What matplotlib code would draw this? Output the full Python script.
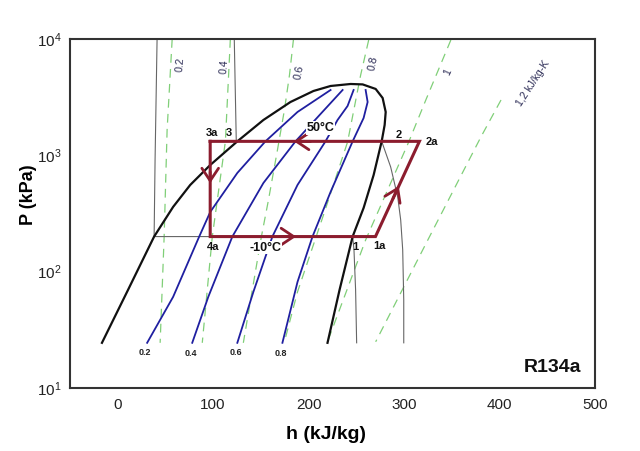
import matplotlib
matplotlib.use('Agg')
import matplotlib.pyplot as plt
import numpy as np

plt.rcParams['font.family'] = ['Liberation Sans', 'DejaVu Sans']
plt.rcParams['mathtext.fontset'] = 'custom'
plt.rcParams['mathtext.rm'] = 'Liberation Sans'

# ---------------- data (h in kJ/kg, P in kPa) ----------------
dome_h = [-16.3, 11.0, 38.3, 58.2, 76.1, 97.1, 125.4, 152.7, 181.0, 205.1, 223.0, 244.0,
          256.6, 270.2, 277.5, 280.7, 279.6, 276.5, 268.1, 257.6, 246.1, 232.4, 219.8]
dome_P = [24.4, 69.6, 200, 360, 556, 826, 1318, 2012, 2872, 3573, 3945, 4104,
          4070, 3720, 3111, 2358, 1822, 1318, 678, 353, 200, 69.6, 24.4]

x_labels = ['0.2', '0.4', '0.6', '0.8']
x02_h = [31.0, 58.2, 85.5, 97.1, 125.4, 154.8, 188.4, 223.0]
x02_P = [24.4, 60.6, 200, 326, 705, 1318, 2358, 3644]
x04_h = [78.2, 95.0, 120.2, 152.7, 186.3, 212.5, 235.6]
x04_P = [24.4, 60.6, 200, 578, 1318, 2266, 3644]
x06_h = [125.4, 142.2, 162.1, 188.4, 217.7, 230.3, 240.8, 247.1]
x06_P = [24.4, 66.9, 200, 556, 1318, 2012, 2655, 3644]
x08_h = [172.6, 188.4, 204.1, 223.0, 246.1, 257.6, 261.8, 259.7]
x08_P = [24.4, 81.5, 200, 484, 1318, 2094, 2872, 3644]
x_label_h = [29, 77, 124, 170.5]
x_label_P = [20, 19.7, 20, 19.7]

s_labels = ['0.2', '0.4', '0.6', '0.8', '1', '1,2 kJ/kg-K']
s02_h = [57.2, 51.9, 48.8, 44.6]
s02_P = [10000, 1651, 200, 24.4]
s04_h = [118.1, 112.9, 99.2, 88.7]
s04_P = [10000, 1318, 200, 24.4]
s06_h = [184.2, 180.0, 174.7, 167.4, 158.0, 150.6, 141.1, 131.7]
s06_P = [10000, 4903, 2453, 1111, 413, 200, 69.6, 24.4]
s08_h = [262.9, 254.5, 240.8, 215.6, 188.4, 174.7]
s08_P = [9804, 4903, 1302, 307, 66.9, 24.9]
s10_h = [348.9, 322.7, 304.8, 259.7, 219.8]
s10_P = [9804, 2989, 1302, 187, 24.9]
s12_h = [401.4, 380.4, 324.8, 270.2]
s12_P = [2989, 1439, 187, 24.9]
s_label_h = [65.6, 111.8, 190.4, 268.1, 345.8, 435.0]
s_label_P = [5976, 5745, 5204, 6220, 5204, 4186]
s_label_rot = [85, 85, 78, 78, 65, 57]

tm10_h = [41.4, 39.3, 38.3, 246.1, 247.5, 249.2, 250.3]
tm10_P = [10000, 912, 200, 200, 154, 69.6, 24.4]
t50_h = [122.2, 124.3, 276.5, 285.9, 293.3, 296.4, 298.5, 299.6, 299.6]
t50_P = [10000, 1318, 1318, 794, 438, 278, 154, 57.1, 24.4]

cycle_names = ['3a', '4a', '1a', '2a']
cycle_h = [97, 97, 270, 316]
cycle_P = [1318, 200, 200, 1318]

pt_labels = ['3a', '3', '2', '2a', '4a', '1', '1a']
pt_h = [99, 117, 294, 329, 100, 249, 274]
pt_P = [1556, 1556, 1496, 1290, 163, 163, 165]

# ---------------- styles ----------------
RED = '#8c1c2e'
BLUE = '#1f1fa0'
GREEN = '#80cf78'
GRAY = '#666666'
LABC = '#2b2b55'

fig = plt.figure(figsize=(6.4, 4.51), dpi=100)
ax = fig.add_axes([0.109, 0.140, 0.821, 0.7735])
ax.set_yscale('log')
ax.set_xlim(-50, 500)
ax.set_ylim(10, 10000)

# isentropes
for hh, pp in [(s02_h, s02_P), (s04_h, s04_P), (s06_h, s06_P), (s08_h, s08_P),
               (s10_h, s10_P), (s12_h, s12_P)]:
    ax.plot(hh, pp, color=GREEN, lw=0.9, dashes=(7, 5), zorder=1)
for lab, hh, pp, rot in zip(s_labels, s_label_h, s_label_P, s_label_rot):
    ax.text(hh, pp, lab, rotation=rot, fontsize=7.5, color=LABC,
            ha='center', va='center', zorder=2)

# isotherms
ax.plot(tm10_h, tm10_P, color=GRAY, lw=0.8, zorder=2)
ax.plot(t50_h, t50_P, color=GRAY, lw=0.8, zorder=2)

# quality lines
for hh, pp in [(x02_h, x02_P), (x04_h, x04_P), (x06_h, x06_P), (x08_h, x08_P)]:
    ax.plot(hh, pp, color=BLUE, lw=1.3, zorder=3)
for lab, hh, pp in zip(x_labels, x_label_h, x_label_P):
    ax.text(hh, pp, lab, fontsize=6.5, fontweight='bold', color='#222222',
            ha='center', va='center', zorder=4)

# saturation dome
ax.plot(dome_h, dome_P, color='#111111', lw=1.6, zorder=4)

# cycle
ch = cycle_h + [cycle_h[0]]
cp = cycle_P + [cycle_P[0]]
ax.plot(ch, cp, color=RED, lw=2.2, zorder=6, solid_joinstyle='miter')

def along(i, j, t):
    h = cycle_h[i] + t * (cycle_h[j] - cycle_h[i])
    lp = np.log10(cycle_P[i]) + t * (np.log10(cycle_P[j]) - np.log10(cycle_P[i]))
    return h, 10 ** lp

arrow_specs = [(3, 0, 0.60, 0.52),   # top, leftwards
               (0, 1, 0.44, 0.32),   # left, downwards
               (1, 2, 0.52, 0.42),   # bottom, rightwards
               (2, 3, 0.53, 0.40)]   # slanted, upwards
for i, j, th, tt in arrow_specs:
    head = along(i, j, th)
    tail = along(i, j, tt)
    ax.annotate('', xy=head, xytext=tail,
                arrowprops=dict(arrowstyle='->,head_length=0.6,head_width=0.4',
                                color=RED, lw=2.0, mutation_scale=15,
                                shrinkA=0, shrinkB=0), zorder=7)

for lab, hh, pp in zip(pt_labels, pt_h, pt_P):
    ax.text(hh, pp, lab, fontsize=8, fontweight='bold', color='#111111',
            ha='center', va='center', zorder=8)

ax.text(212.5, 1718, '50°C', fontsize=9, fontweight='bold', color='#111111',
        ha='center', va='center', zorder=8,
        bbox=dict(boxstyle='square,pad=0.05', fc='white', ec='none'))
ax.text(155, 160, '-10°C', fontsize=9, fontweight='bold', color='#111111',
        ha='center', va='center', zorder=8,
        bbox=dict(boxstyle='square,pad=0.05', fc='white', ec='none'))
ax.text(485, 15.1, 'R134a', fontsize=14, fontweight='bold', color='#111111',
        ha='right', va='center', zorder=8)

# axes cosmetics
ax.set_xticks([0, 100, 200, 300, 400, 500])
ax.yaxis.set_major_locator(matplotlib.ticker.LogLocator(base=10, numticks=10))
ax.yaxis.set_minor_locator(matplotlib.ticker.NullLocator())
ax.tick_params(axis='both', which='both', length=0, labelsize=11, colors='#222222')
ax.tick_params(axis='x', pad=7)
ax.tick_params(axis='y', pad=6)
for sp in ax.spines.values():
    sp.set_color('#333333')
    sp.set_linewidth(1.5)
ax.set_xlabel('h (kJ/kg)', fontsize=14, fontweight='bold')
ax.set_ylabel('P (kPa)', fontsize=13, fontweight='bold')
ax.xaxis.set_label_coords(0.487, -0.11)
ax.yaxis.set_label_coords(-0.062, 0.553)

fig.savefig('out.png', dpi=100)
